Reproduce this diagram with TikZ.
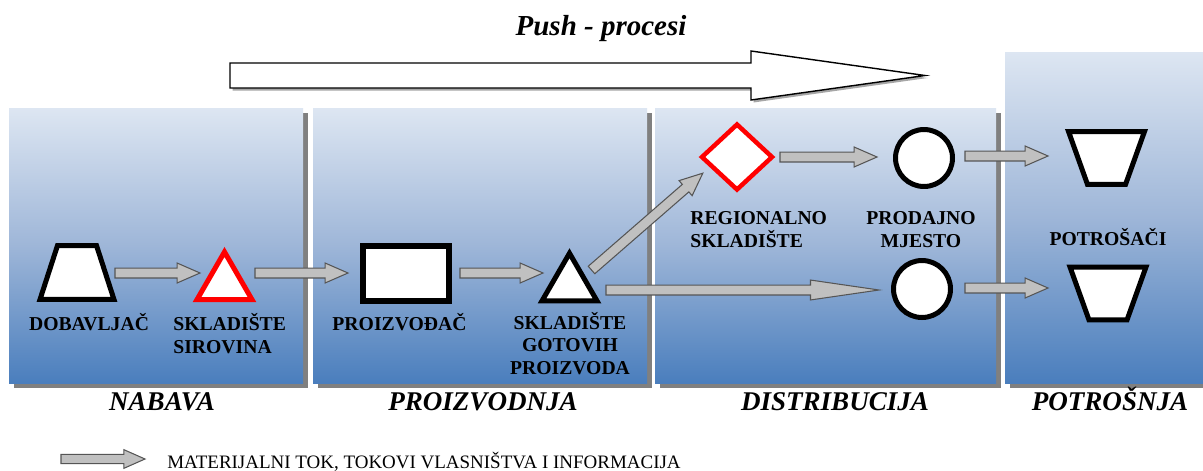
\documentclass[tikz,border=0pt]{standalone}
\usepackage{fontspec}
\setmainfont{Liberation Serif}
\usetikzlibrary{calc,shapes.geometric}
\definecolor{ptop}{RGB}{221,230,242}
\definecolor{pmid}{RGB}{158,182,216}
\definecolor{pbot}{RGB}{74,126,189}
\definecolor{arrfill}{RGB}{192,192,192}
\definecolor{arrline}{RGB}{85,85,85}
\definecolor{shad}{RGB}{128,128,128}
\pgfdeclareverticalshading{panelshade}{100bp}{color(0bp)=(pbot); color(25bp)=(pbot); color(50bp)=(pmid); color(75bp)=(ptop); color(100bp)=(ptop)}
\def\fw{2.83pt}\def\fh{5.67pt}\def\fl{13pt}
\tikzset{
  fw/.code={\def\fw{#1}}, fh/.code={\def\fh{#1}}, fl/.code={\def\fl{#1}},
  arfr/.style={shift={(\p1)},rotate=\n1},
  flow/.style={draw=arrline, fill=arrfill, line width=0.6pt, line join=miter,
    to path={let \p1=(\tikztostart), \p2=(\tikztotarget),
      \n1={atan2(\y2-\y1,\x2-\x1)}, \n2={veclen(\x2-\x1,\y2-\y1)} in
      ([arfr]0pt,{\fw}) -- ([arfr]{\n2-\fl},{\fw}) -- ([arfr]{\n2-\fl},{\fh})
      -- ([arfr]{\n2*1pt},0pt) -- ([arfr]{\n2-\fl},{-\fh}) -- ([arfr]{\n2-\fl},{-\fw})
      -- ([arfr]0pt,{-\fw}) -- cycle}},
  shp/.style={draw, fill=white, line width=0.1cm, inner sep=0pt, outer sep=0pt},
  box/.style={inner sep=0pt, outer sep=0pt},
  tri/.style={shp, regular polygon, regular polygon sides=3, minimum size=1.27cm},
  lab/.style={font=\bfseries\fontsize{11.2}{12.7}\selectfont, inner sep=0pt},
  sec/.style={font=\bfseries\itshape\fontsize{15.4}{18}\selectfont, inner sep=0pt, anchor=base}
}
\begin{document}
\begin{tikzpicture}[x=0.02cm,y=-0.02cm]
\useasboundingbox (0,0) rectangle (1203,470);
\fill[white] (0,0) rectangle (1203,470);
% panels
\foreach \xa/\ya/\xb/\yb in {9/108/303/383, 313/108/647/383, 655/108/996/383, 1005/52/1203/383}{
  \fill[shad] (\xa+5,\ya+5) rectangle (\xb+5,\yb+5);
  \shade[shading=panelshade] (\xa,\ya) rectangle (\xb,\yb);
}
% title and push arrow
\node[font=\bfseries\itshape\fontsize{16.5}{19}\selectfont, inner sep=0pt, anchor=base] (title) at (601,35) {Push - procesi};
\fill[gray!70] (232.5,65.5) -- (753.5,65.5) -- (753.5,53.5) -- (927.5,78) -- (753.5,102.5) -- (753.5,90.5) -- (232.5,90.5) -- cycle;
\draw[fill=white, line width=0.8pt] (230,63) -- (751,63) -- (751,51) -- (925,75.5) -- (751,100) -- (751,88) -- (230,88) -- cycle;
% shapes
\node[box, minimum width=1.48cm, minimum height=1.08cm] (dob) at (77,272.5) {};
\draw[shp] (dob.south west) -- (dob.south east) -- ($(dob.north east)+(-17.5,0)$) -- ($(dob.north west)+(17.5,0)$) -- cycle;
\node[tri, draw=red] (sks) at (224.5,283.7) {};
\node[shp, rectangle, line width=0.12cm, minimum width=1.72cm, minimum height=1.1cm] (proi) at (406,273.5) {};
\node[tri] (sgp) at (569.5,285) {};
\node[shp, diamond, draw=red, line width=0.09cm, minimum width=1.4cm, minimum height=1.3cm] (reg) at (737,157) {};
\node[shp, circle, minimum size=1.14cm] (pm1) at (924,158) {};
\node[shp, circle, minimum size=1.14cm] (pm2) at (922,289) {};
\node[box, minimum width=1.52cm, minimum height=1.06cm] (pot1) at (1106.5,158) {};
\draw[shp] (pot1.north west) -- (pot1.north east) -- ($(pot1.south east)+(-19,0)$) -- ($(pot1.south west)+(19,0)$) -- cycle;
\node[box, minimum width=1.52cm, minimum height=1.06cm] (pot2) at (1108,293.5) {};
\draw[shp] (pot2.north west) -- (pot2.north east) -- ($(pot2.south east)+(-19,0)$) -- ($(pot2.south west)+(19,0)$) -- cycle;
% flows
\draw[flow] ($(dob.center)+(38,0.5)$) to ($(sks.center)+(-24.5,-10.7)$);
\draw[flow] ($(sks.center)+(30.5,-10.7)$) to ($(proi.center)+(-58,-0.5)$);
\draw[flow] ($(proi.center)+(54,-0.5)$) to ($(sgp.center)+(-26.5,-12)$);
\draw[flow] ($(sgp.center)+(22,-15)$) to ($(reg.center)+(-34,16)$);
\draw[flow, fl=39pt] ($(sgp.center)+(36.5,5)$) to ($(pm2.center)+(-43,1)$);
\draw[flow] ($(reg.center)+(43,0)$) to ($(pm1.center)+(-47,-1)$);
\draw[flow] ($(pm1.center)+(41,-2)$) to ($(pot1.center)+(-58.5,-2)$);
\draw[flow] ($(pm2.center)+(43,-1)$) to ($(pot2.center)+(-60,-5.5)$);
% labels (anchor base = baseline of the last line)
\node[lab, anchor=base] (ldob) at (89,330) {DOBAVLJAČ};
\node[lab, anchor=base west, align=left] (lsks) at (173,353) {SKLADIŠTE\\SIROVINA};
\node[lab, anchor=base] (lproi) at (399.5,330) {PROIZVOĐAČ};
\node[lab, anchor=base, align=center] (lsgp) at (570,374) {SKLADIŠTE\\GOTOVIH\\PROIZVODA};
\node[lab, anchor=base west, align=left] (lreg) at (690,247) {REGIONALNO\\SKLADIŠTE};
\node[lab, anchor=base, align=center] (lpm) at (921,247) {PRODAJNO\\MJESTO};
\node[lab, anchor=base] (lpot) at (1108,245) {POTROŠAČI};
% section labels
\node[sec] (snab) at (162,410) {NABAVA};
\node[sec] (spro) at (483,410) {PROIZVODNJA};
\node[sec] (sdis) at (835,410) {DISTRIBUCIJA};
\node[sec] (spot) at (1110,410) {POTROŠNJA};
% legend
\coordinate (lgs) at (61,459);
\coordinate (lge) at (145,459);
\draw[flow, fw=2.6pt, fh=5.3pt, fl=12pt] (lgs) to (lge);
\node[font=\fontsize{10.8}{13}\selectfont, inner sep=0pt, anchor=base west] (lgt) at (167,468) {MATERIJALNI TOK, TOKOVI VLASNIŠTVA I INFORMACIJA};
\end{tikzpicture}
\end{document}
